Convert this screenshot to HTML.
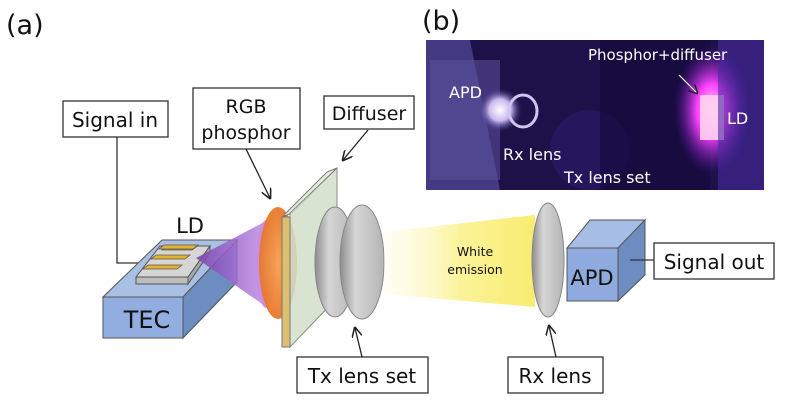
<!DOCTYPE html>
<html><head><meta charset="utf-8"><style>
html,body{margin:0;padding:0;background:#fff}
svg{display:block}
text{font-family:"DejaVu Sans","Liberation Sans",sans-serif}
</style></head><body>
<svg width="786" height="405" viewBox="0 0 786 405">
<defs>
<linearGradient id="yel" x1="0" x2="1"><stop offset="0" stop-color="#fffbe0" stop-opacity="0.3"/><stop offset="0.5" stop-color="#fbf39a"/><stop offset="1" stop-color="#f8ec70"/></linearGradient>
<linearGradient id="lens" x1="0" x2="1"><stop offset="0" stop-color="#8c8c8c"/><stop offset="0.35" stop-color="#d6d6d6"/><stop offset="1" stop-color="#b4b4b4"/></linearGradient>
<linearGradient id="cone" x1="0" x2="1"><stop offset="0" stop-color="#7a3fb0"/><stop offset="1" stop-color="#c290e8"/></linearGradient>
<radialGradient id="ph" cx="0.5" cy="0.5" r="0.5"><stop offset="0" stop-color="#f6a04e"/><stop offset="1" stop-color="#e8772a"/></radialGradient>
<radialGradient id="glow" cx="0.5" cy="0.5" r="0.5"><stop offset="0" stop-color="#ffd8ff"/><stop offset="0.4" stop-color="#ff40ff"/><stop offset="1" stop-color="#5a1ab0" stop-opacity="0"/></radialGradient>
<radialGradient id="glow2" cx="0.5" cy="0.5" r="0.5"><stop offset="0" stop-color="#ffffff"/><stop offset="0.5" stop-color="#c8b8f0"/><stop offset="1" stop-color="#3a2a80" stop-opacity="0"/></radialGradient>
<marker id="ar" markerWidth="8" markerHeight="8" refX="7" refY="4" orient="auto"><path d="M0,0 L8,4 L0,8" fill="none" stroke="#222" stroke-width="1.2"/></marker>
</defs>

<text x="6" y="34" font-size="27" fill="#111">(a)</text>
<text x="422" y="30" font-size="27" fill="#111">(b)</text>

<g>
<rect x="426" y="40" width="338" height="150" fill="#1c1148"/>
<polygon points="426,40 470,40 500,190 426,190" fill="#4a3f88" opacity="0.9"/>
<rect x="430" y="60" width="70" height="120" fill="#5a4e9a" opacity="0.6"/>
<ellipse cx="500" cy="110" rx="22" ry="22" fill="url(#glow2)"/>
<ellipse cx="523" cy="111" rx="14" ry="16" fill="none" stroke="#cfc4f0" stroke-width="3"/>
<ellipse cx="590" cy="150" rx="40" ry="40" fill="#2a1a66" opacity="0.7"/>
<rect x="600" y="40" width="110" height="150" fill="#14093a" opacity="0.6"/>
<ellipse cx="712" cy="110" rx="38" ry="65" fill="url(#glow)"/>
<rect x="700" y="95" width="24" height="45" fill="#ffd0f0" opacity="0.9"/>
<rect x="718" y="40" width="46" height="150" fill="#4a2aa0" opacity="0.6"/>
<line x1="679" y1="75" x2="697" y2="93" stroke="#fff" stroke-width="1.2" marker-end="url(#ar)"/>
<text x="588" y="60" font-size="15" fill="#fff">Phosphor+diffuser</text>
<text x="449" y="98" font-size="16" fill="#fff">APD</text>
<text x="503" y="160" font-size="16" fill="#fff">Rx lens</text>
<text x="564" y="183" font-size="16" fill="#fff">Tx lens set</text>
<text x="727" y="124" font-size="16" fill="#fff">LD</text>
</g>

<g><rect x="63" y="101" width="105" height="36" fill="#fff" stroke="#333" stroke-width="1.3"/><text x="115" y="127" font-size="20" text-anchor="middle" fill="#111">Signal in</text></g>
<polyline points="117,137 117,263 150,263" fill="none" stroke="#333" stroke-width="1.3"/>
<g><rect x="193" y="88" width="107" height="61" fill="#fff" stroke="#333" stroke-width="1.3"/><text x="246" y="113" font-size="19" text-anchor="middle" fill="#111">RGB</text><text x="246" y="139" font-size="19" text-anchor="middle" fill="#111">phosphor</text></g>
<line x1="246" y1="149" x2="270" y2="198" stroke="#222" stroke-width="1.3" marker-end="url(#ar)"/>
<g><rect x="324" y="96" width="90" height="33" fill="#fff" stroke="#333" stroke-width="1.3"/><text x="369" y="120" font-size="19" text-anchor="middle" fill="#111">Diffuser</text></g>
<line x1="368" y1="130" x2="343" y2="160" stroke="#222" stroke-width="1.3" marker-end="url(#ar)"/>

<g>
<polygon points="103,297 162,240 237,240 183,297" fill="#a9c0e4" stroke="#555" stroke-width="1"/>
<polygon points="183,297 237,240 237,282 183,338" fill="#6d8cc0" stroke="#555" stroke-width="1"/>
<rect x="103" y="297" width="80" height="41" fill="#92aee0" stroke="#555" stroke-width="1"/>
<text x="147" y="328" font-size="24" text-anchor="middle" fill="#111">TEC</text>
</g>
<g>
<polygon points="136,277 160,246 210,246 188,277" fill="#d6d6d6" stroke="#555"/>
<polygon points="136,277 188,277 188,284 136,284" fill="#bdbdbd" stroke="#555"/>
<polygon points="188,277 210,246 210,252 188,284" fill="#a8a8a8" stroke="#555"/>
<polygon points="162,250 166,247 196,247 192,250" fill="#e2b430" stroke="#555" stroke-width="0.8" transform="translate(0,0)"/>
<polygon points="159,249 164,245 198,245 193,249" fill="#e2b430" stroke="#555" stroke-width="0.8"/>
<polygon points="151,259 156,255 190,255 185,259" fill="#e2b430" stroke="#555" stroke-width="0.8"/>
<polygon points="143,269 148,265 182,265 177,269" fill="#e2b430" stroke="#555" stroke-width="0.8"/>
<text x="190" y="233" font-size="21" text-anchor="middle" fill="#111">LD</text>
</g>
<g>
<polygon points="196,258 268,220 268,308" fill="url(#cone)" opacity="0.85"/>
<ellipse cx="266" cy="264" rx="10" ry="44" fill="#c68ee6" opacity="0.85"/>
</g>
<ellipse cx="278" cy="263" rx="19" ry="56" fill="url(#ph)" opacity="0.95"/>
<g>
<polygon points="282,217 327,172 337,168 292,213" fill="#e8efe0" stroke="#777"/>
<polygon points="290,213 337,168 337,298 290,347" fill="#d2dfca" opacity="0.85" stroke="#777"/>
<rect x="282" y="217" width="8" height="130" fill="#dcc070" stroke="#777"/>
</g>
<ellipse cx="335" cy="262" rx="20" ry="55" fill="url(#lens)" stroke="#888"/>
<ellipse cx="362" cy="262" rx="22" ry="57" fill="url(#lens)" stroke="#888"/>

<polygon points="384,232 535,215 535,307 384,294" fill="url(#yel)"/>
<text x="475" y="256" font-size="12.5" text-anchor="middle" fill="#111">White</text>
<text x="475" y="274" font-size="12.5" text-anchor="middle" fill="#111">emission</text>

<g><rect x="297" y="357" width="131" height="36" fill="#fff" stroke="#333" stroke-width="1.3"/><text x="362" y="383" font-size="20" text-anchor="middle" fill="#111">Tx lens set</text></g>
<line x1="362" y1="357" x2="355" y2="328" stroke="#222" stroke-width="1.3" marker-end="url(#ar)"/>

<ellipse cx="548" cy="260" rx="16" ry="57" fill="url(#lens)" stroke="#888"/>
<g>
<polygon points="567,248 590,220 645,220 618,248" fill="#a6bde6" stroke="#555"/>
<polygon points="618,248 645,220 645,275 618,301" fill="#6d8cc0" stroke="#555"/>
<rect x="567" y="248" width="51" height="53" fill="#8eaadf" stroke="#555"/>
<text x="592" y="285" font-size="21" text-anchor="middle" fill="#111">APD</text>
</g>
<line x1="630" y1="260" x2="654" y2="260" stroke="#333" stroke-width="1.3"/>
<g><rect x="654" y="243" width="120" height="36" fill="#fff" stroke="#333" stroke-width="1.3"/><text x="714" y="269" font-size="20" text-anchor="middle" fill="#111">Signal out</text></g>
<g><rect x="508" y="357" width="95" height="36" fill="#fff" stroke="#333" stroke-width="1.3"/><text x="555" y="383" font-size="20" text-anchor="middle" fill="#111">Rx lens</text></g>
<line x1="556" y1="357" x2="549" y2="326" stroke="#222" stroke-width="1.3" marker-end="url(#ar)"/>
</svg>
</body></html>
